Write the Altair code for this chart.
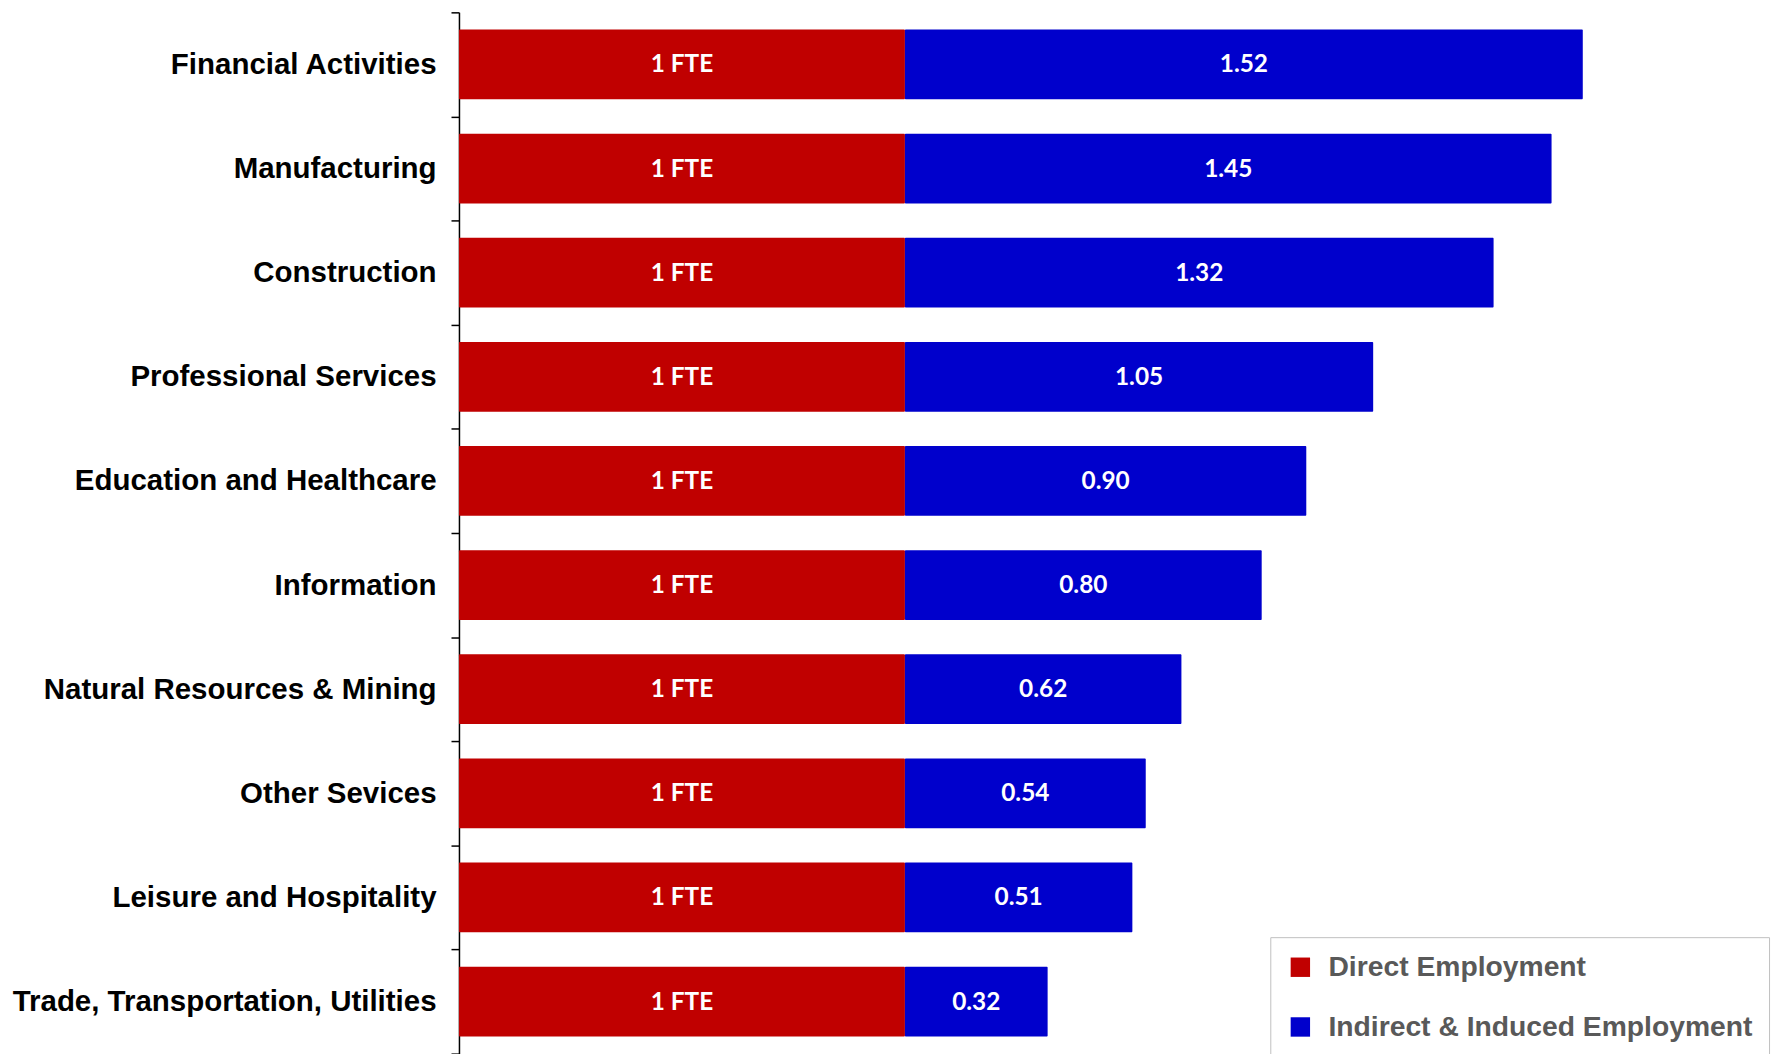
import altair as alt
import pandas as pd

categories = [
    "Financial Activities",
    "Manufacturing",
    "Construction",
    "Professional Services",
    "Education and Healthcare",
    "Information",
    "Natural Resources & Mining",
    "Other Sevices",
    "Leisure and Hospitality",
    "Trade, Transportation, Utilities",
]
direct_values = [1, 1, 1, 1, 1, 1, 1, 1, 1, 1]
indirect_values = [1.52, 1.45, 1.32, 1.05, 0.90, 0.80, 0.62, 0.54, 0.51, 0.32]
series_names = ["Direct Employment", "Indirect & Induced Employment"]
series_colors = ["#C00000", "#0000CC"]

rows = []
for c, d, v in zip(categories, direct_values, indirect_values):
    rows.append({"category": c, "series": series_names[0], "value": d, "order": 0,
                 "label": f"{d} FTE"})
    rows.append({"category": c, "series": series_names[1], "value": v, "order": 1,
                 "label": f"{v:.2f}"})
df = pd.DataFrame(rows)

y_enc = alt.Y(
    "category:N",
    sort=categories,
    title=None,
    scale=alt.Scale(paddingInner=0, paddingOuter=0),
    axis=alt.Axis(
        domainColor="black",
        domainWidth=1.5,
        tickColor="black",
        tickWidth=1.5,
        tickSize=8,
        tickBand="extent",
        labelFontSize=29.6,
        labelFont="Liberation Sans",
        labelFontWeight="bold",
        labelColor="black",
        labelPadding=15,
        labelLimit=800,
    ),
)

base = alt.Chart(df).transform_stack(
    stack="value",
    groupby=["category"],
    as_=["x0", "x1"],
    sort=[alt.SortField("order", order="ascending")],
).transform_calculate(mid="(datum.x0 + datum.x1) / 2")

bars = base.mark_bar(cornerRadius=1, height=alt.RelativeBandSize(0.67)).encode(
    x=alt.X("x0:Q", axis=None, scale=alt.Scale(domain=[0, 2.96], nice=False)),
    x2="x1:Q",
    y=y_enc,
    color=alt.Color(
        "series:N",
        scale=alt.Scale(domain=series_names, range=series_colors),
        legend=alt.Legend(
            title=None,
            orient="none",
            legendX=815,
            legendY=929,
            fillColor="white",
            strokeColor="#bfbfbf",
            padding=16,
            symbolType="square",
            symbolSize=380,
            symbolStrokeWidth=0,
            labelFontSize=28.4,
            labelFont="Liberation Sans",
            labelFontWeight="bold",
            labelColor="#595959",
            rowPadding=31,
            labelOffset=14,
            labelLimit=800,
        ),
    ),
)

texts = base.mark_text(
    color="white", font="Lato", fontWeight="bold", fontSize=24.5, baseline="middle", dy=1
).encode(
    x=alt.X("mid:Q"),
    y=alt.Y("category:N", sort=categories),
    text="label:N",
)

chart = (
    alt.layer(bars, texts)
    .properties(
        width=1326,
        height=1046,
        autosize=alt.AutoSizeParams(type="none"),
        padding={"left": 453, "top": 2, "right": 0, "bottom": 0},
    )
    .configure_view(stroke=None)
)

chart.save("out.html", embed_options={"renderer": "svg", "actions": False})
